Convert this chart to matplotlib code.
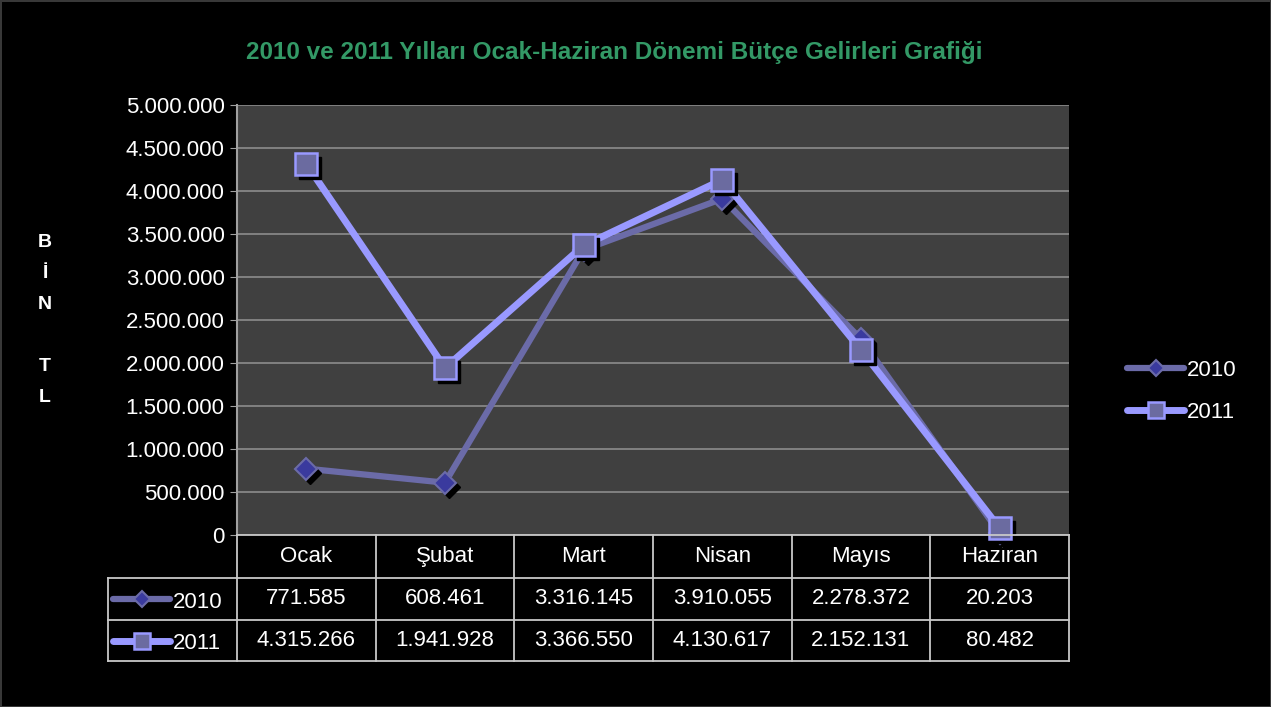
import matplotlib
matplotlib.use("Agg")
import matplotlib.pyplot as plt
import matplotlib.transforms as mtransforms
from matplotlib.lines import Line2D

plt.rcParams['font.family'] = ['Liberation Sans', 'DejaVu Sans']

months = ["Ocak", "Şubat", "Mart", "Nisan", "Mayıs", "Haziran"]
series_names = ["2010", "2011"]
values_2010 = [771585, 608461, 3316145, 3910055, 2278372, 20203]
values_2011 = [4315266, 1941928, 3366550, 4130617, 2152131, 80482]
yticks = [0, 500000, 1000000, 1500000, 2000000, 2500000, 3000000, 3500000, 4000000, 4500000, 5000000]
title = "2010 ve 2011 Yılları Ocak-Haziran Dönemi Bütçe Gelirleri Grafiği"
ylabel_letters = ["B", "İ", "N", "", "T", "L"]

W, H = 1271, 707
fig = plt.figure(figsize=(W / 100, H / 100), dpi=100, facecolor="black")

def fx(px):
    return px / W

def fy(py):
    return 1 - py / H

FS = 16

ax_l, ax_r, ax_t, ax_b = 237, 1069, 105, 535
ax = fig.add_axes([fx(ax_l), fy(ax_b), fx(ax_r - ax_l), (ax_b - ax_t) / H])
ax.set_facecolor("#404040")

fmt = lambda v: f"{v:,.0f}".replace(",", ".")

styles = {
    "2010": dict(color="#6B6BA8", lw=4.5, marker="D", ms=11, mfc="#3A3A9E", mec="#6B6BA8", mew=1.5),
    "2011": dict(color="#9999FF", lw=5.0, marker="s", ms=16, mfc="#6B6BA0", mec="#9999FF", mew=1.8),
}
x = list(range(len(months)))
shadow = mtransforms.ScaledTranslation(4 / 100, -4 / 100, fig.dpi_scale_trans)
for i, (name, vals) in enumerate(zip(series_names, [values_2010, values_2011])):
    st = styles[name]
    ax.plot(x, vals, color=st["color"], lw=st["lw"], solid_capstyle="round", zorder=3 + 2 * i)
    ax.plot(x, vals, ls="none", marker=st["marker"], ms=st["ms"], mfc="black", mec="black",
            transform=ax.transData + shadow, zorder=3.5 + 2 * i, clip_on=False)
    ax.plot(x, vals, ls="none", marker=st["marker"], ms=st["ms"], mfc=st["mfc"], mec=st["mec"],
            mew=st["mew"], zorder=4 + 2 * i, clip_on=False)

ax.set_xlim(-0.5, len(months) - 0.5)
ax.set_ylim(0, 5000000)
ax.set_yticks(yticks)
ax.set_yticklabels([fmt(v) for v in yticks], color="white", fontsize=FS)
ax.tick_params(axis="y", length=5, color="#A0A0A0", pad=4)
ax.set_xticks([])
ax.grid(axis="y", color="#8C8C8C", lw=1.2)
ax.set_axisbelow(True)
for s in ["top", "right", "bottom"]:
    ax.spines[s].set_visible(False)
ax.spines["left"].set_color("#A0A0A0")
ax.spines["left"].set_linewidth(1.5)

# title
fig.text(fx(614), fy(52), title, color="#339966", fontsize=17.5, fontweight="bold",
         ha="center", va="center")

# vertical y label
for k, ch in enumerate(ylabel_letters):
    fig.text(fx(45), fy(242 + k * 31.2), ch, color="white", fontsize=14, fontweight="bold",
             ha="center", va="center")

# data table
col_edges = [ax_l + (ax_r - ax_l) * j / len(months) for j in range(len(months) + 1)]
row_lines = [535, 578, 620, 661]
lc = "#C8C8C8"
lw = 1.3
fig.add_artist(Line2D([fx(ax_l), fx(ax_r)], [fy(row_lines[0])] * 2, color=lc, lw=lw))
for rl in row_lines[1:]:
    fig.add_artist(Line2D([fx(108), fx(ax_r)], [fy(rl)] * 2, color=lc, lw=lw))
fig.add_artist(Line2D([fx(108)] * 2, [fy(row_lines[1]), fy(row_lines[3])], color=lc, lw=lw))
for e in col_edges:
    fig.add_artist(Line2D([fx(e)] * 2, [fy(row_lines[0]), fy(row_lines[3])], color=lc, lw=lw))

trans = ax.get_xaxis_transform()
row_centers = [(row_lines[j] + row_lines[j + 1]) / 2 for j in range(3)]
for j, m in enumerate(months):
    ax.text(j, (ax_b - row_centers[0]) / (ax_b - ax_t), m, transform=trans, color="white",
            fontsize=FS, ha="center", va="center", clip_on=False)
for r, vals in enumerate([values_2010, values_2011]):
    for j, v in enumerate(vals):
        ax.text(j, (ax_b - row_centers[r + 1]) / (ax_b - ax_t), fmt(v), transform=trans,
                color="white", fontsize=FS, ha="center", va="center", clip_on=False)

def legend_key(x0, x1, yc, name):
    st = styles[name]
    fig.add_artist(Line2D([fx(x0), fx(x1)], [fy(yc)] * 2, color=st["color"], lw=st["lw"],
                          solid_capstyle="round"))
    fig.add_artist(Line2D([fx((x0 + x1) / 2)], [fy(yc)], ls="none", marker=st["marker"],
                          ms=st["ms"] * 0.75, mfc=st["mfc"], mec=st["mec"], mew=st["mew"]))
    fig.text(fx(x1 + 3), fy(yc + 3), name, color="white", fontsize=FS, ha="left", va="center")

for r, name in enumerate(series_names):
    legend_key(113, 170, row_centers[r + 1], name)
    legend_key(1127, 1184, [368, 410][r], name)

fig.patch.set_edgecolor("#383838")
fig.patch.set_linewidth(2)
fig.savefig("out.png", dpi=100, facecolor="black", edgecolor=fig.get_edgecolor())
